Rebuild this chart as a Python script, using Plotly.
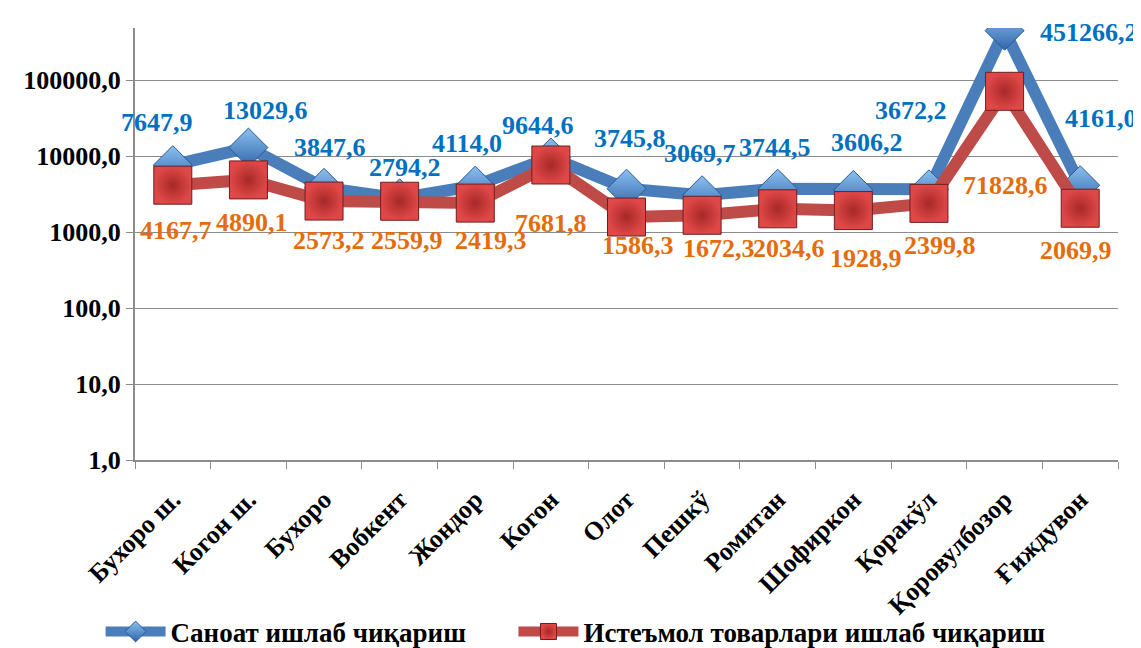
import numpy as np
import plotly.graph_objects as go

categories = ["Бухоро ш.", "Когон ш.", "Бухоро", "Вобкент", "Жондор", "Когон", "Олот",
              "Пешкў", "Ромитан", "Шофиркон", "Қоракўл", "Қоровулбозор", "Ғиждувон"]
industry = [7647.9, 13029.6, 3847.6, 2794.2, 4114.0, 9644.6, 3745.8,
            3069.7, 3744.5, 3606.2, 3672.2, 451266.2, 4161.0]
consumer = [4167.7, 4890.1, 2573.2, 2559.9, 2419.3, 7681.8, 1586.3,
            1672.3, 2034.6, 1928.9, 2399.8, 71828.6, 2069.9]
series_names = ["Саноат ишлаб чиқариш", "Истеъмол товарлари ишлаб чиқариш"]
y_tickvals = [1, 10, 100, 1000, 10000, 100000]
y_ticktext = ["1,0", "10,0", "100,0", "1000,0", "10000,0", "100000,0"]

# label offsets (pixels) as placed in the original
blue_dx = [-16, 17, 6, 5, -8, -13, 3, -2, -3, 14, -18, 84, 21]
blue_dy = [-43, -37, -40, -31, -42, -32, -50, -42, -41, -47, -79, 2, -67]
red_dx = [3, 4, 5, 7, 16, 0, 11, 17, 11, 13, 11, 1, -4]
red_dy = [45, 43, 39, 39, 37, 58, 28, 33, 40, 48, 42, 94, 42]

FONT = "Liberation Serif"
BLUE_LINE = "#4A7EBB"
RED_LINE = "#BE4B48"
BLUE_TXT = "#0070C0"
ORANGE_TXT = "#E46C0A"

def fmt(v):
    return f"{v:.1f}".replace(".", ",")

legend_font = dict(family=FONT, size=27, color="black", weight="bold")

fig = go.Figure()
fig.add_trace(go.Scatter(
    x=categories, y=industry, name=series_names[0], mode="lines+markers",
    line=dict(color=BLUE_LINE, width=12),
    marker=dict(symbol="diamond", size=30, color="#8CC0F0",
                gradient=dict(type="vertical", color="#2F66AA"),
                line=dict(color="#2A5A95", width=1)),
    legend="legend",
))
fig.add_trace(go.Scatter(
    x=categories, y=consumer, name=series_names[1], mode="lines+markers",
    line=dict(color=RED_LINE, width=12),
    marker=dict(symbol="square", size=38, color="#E04848",
                gradient=dict(type="radial", color="#A82828"),
                line=dict(color="#6E1E1E", width=1)),
    legend="legend2",
))

annotations = []
for i, c in enumerate(categories):
    annotations.append(dict(
        x=c, y=np.log10(industry[i]), xref="x", yref="y", text=fmt(industry[i]),
        showarrow=False, xshift=blue_dx[i], yshift=-blue_dy[i],
        font=dict(family=FONT, size=26, color=BLUE_TXT, weight="bold")))
    annotations.append(dict(
        x=c, y=np.log10(consumer[i]), xref="x", yref="y", text=fmt(consumer[i]),
        showarrow=False, xshift=red_dx[i], yshift=-red_dy[i],
        font=dict(family=FONT, size=26, color=ORANGE_TXT, weight="bold")))

# the page adds an 8px body margin, so the figure is drawn 8px smaller and shifted
fig.update_layout(
    width=1133, height=640,
    margin=dict(l=127, r=23, t=20, b=188, autoexpand=False),
    paper_bgcolor="white", plot_bgcolor="white",
    font=dict(family=FONT, color="black"),
    showlegend=True,
    legend=dict(orientation="h", x=-0.035, xanchor="left", y=-0.398, yanchor="middle",
                font=legend_font, itemwidth=60, bgcolor="rgba(0,0,0,0)"),
    legend2=dict(orientation="h", x=0.385, xanchor="left", y=-0.398, yanchor="middle",
                 font=legend_font, itemwidth=60, bgcolor="rgba(0,0,0,0)"),
    annotations=annotations,
)
fig.update_yaxes(
    type="log", range=[0, 5.69], automargin=False,
    tickvals=y_tickvals, ticktext=y_ticktext,
    tickfont=dict(family=FONT, size=26, color="black", weight="bold"),
    showgrid=True, gridcolor="#8C8C8C", gridwidth=1,
    showline=True, linecolor="#8C8C8C", linewidth=2,
    ticks="outside", ticklen=7, tickcolor="#8C8C8C", zeroline=False,
)
fig.update_xaxes(
    type="category", tickangle=-45, automargin=False,
    tickfont=dict(family=FONT, size=26, color="black", weight="bold"),
    showgrid=False, showline=True, linecolor="#8C8C8C", linewidth=2,
    ticks="outside", ticklen=7, tickcolor="#8C8C8C", tickson="boundaries",
    ticklabelstandoff=12,
    range=[-0.5, 12.5],
)
fig.write_html("out.html")
